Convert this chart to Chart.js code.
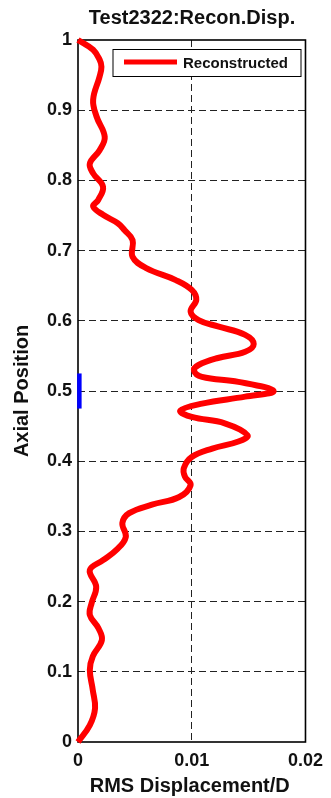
<!DOCTYPE html>
<html>
<head>
<meta charset="utf-8">
<script src="https://cdn.jsdelivr.net/npm/chart.js@4/dist/chart.umd.min.js"></script>
<style>
  html, body { margin: 0; padding: 0; background: #ffffff; }
  #wrap { width: 331px; height: 798px; position: relative; }
</style>
</head>
<body>
<div id="wrap"><canvas id="chart"></canvas></div>
<script>
// Reconstructed RMS displacement profile along the axial position
const axialPosition = [
  0.000, 0.024, 0.048, 0.074, 0.103, 0.122, 0.145, 0.162, 0.181, 0.198,
  0.221, 0.245, 0.259, 0.274, 0.292, 0.312, 0.326, 0.338, 0.349, 0.366,
  0.378, 0.390, 0.406, 0.418, 0.428, 0.437, 0.454, 0.463, 0.472, 0.482,
  0.492, 0.500, 0.513, 0.520, 0.529, 0.537, 0.547, 0.556, 0.567, 0.580,
  0.592, 0.601, 0.613, 0.630, 0.644, 0.658, 0.675, 0.691, 0.715, 0.729,
  0.739, 0.751, 0.763, 0.772, 0.791, 0.810, 0.824, 0.843, 0.862, 0.891,
  0.915, 0.948, 0.962, 0.972, 0.986, 1.000
];
const rmsDisplacement = [
  0.0000, 0.00104, 0.0015, 0.0013, 0.00104, 0.0013, 0.0021, 0.0018, 0.00104, 0.0012,
  0.0016, 0.00104, 0.0022, 0.0034, 0.0042, 0.0039, 0.0045, 0.0065, 0.0089, 0.0099,
  0.0094, 0.0093, 0.0100, 0.0118, 0.0141, 0.0149, 0.0129, 0.0100, 0.0090, 0.0109,
  0.0147, 0.0172, 0.0141, 0.0109, 0.0102, 0.0106, 0.0123, 0.0147, 0.01545, 0.0147,
  0.0123, 0.0106, 0.0099, 0.0104, 0.0100, 0.0086, 0.0060, 0.0048, 0.0048, 0.0041,
  0.0035, 0.0022, 0.00133, 0.00177, 0.0022, 0.00133, 0.00104, 0.0019, 0.00235, 0.00163,
  0.00133, 0.0019, 0.00206, 0.0019, 0.00133, 0.0000
];

// Short blue marker on the left axis
const markerPosition = [0.475, 0.525];
const markerDisplacement = [0.00012, 0.00012];

const xTickLabels = ['0', '0.01', '0.02'];
const yTickLabels = ['0', '0.1', '0.2', '0.3', '0.4', '0.5', '0.6', '0.7', '0.8', '0.9', '1'];

const chartTitle = 'Test2322:Recon.Disp.';
const xTitle = 'RMS Displacement/D';
const yTitle = 'Axial Position';
const seriesName = 'Reconstructed';

const FONT = '"Liberation Sans", Arial, Helvetica, sans-serif';

const curve = axialPosition.map((y, i) => ({ x: rmsDisplacement[i], y }));
const marker = markerPosition.map((y, i) => ({ x: markerDisplacement[i], y }));

// Box around the plot area (drawn beneath the data)
const frame = {
  id: 'frame',
  beforeDatasetsDraw(chart) {
    const { ctx, chartArea: a } = chart;
    ctx.save();
    ctx.strokeStyle = '#000';
    ctx.lineWidth = 1.6;
    ctx.strokeRect(a.left, a.top, a.right - a.left, a.bottom - a.top);
    ctx.restore();
  }
};

// Title, axis titles and the in-plot legend
const annotations = {
  id: 'annotations',
  afterDraw(chart) {
    const { ctx, chartArea: a } = chart;
    ctx.save();
    ctx.fillStyle = '#111';
    ctx.textAlign = 'center';
    ctx.textBaseline = 'alphabetic';

    ctx.font = 'bold 20px ' + FONT;
    ctx.fillText(chartTitle, 192, 24);

    ctx.font = 'bold 20px ' + FONT;
    ctx.fillText(xTitle, (a.left + a.right) / 2 - 2, 792);

    ctx.save();
    ctx.translate(28, (a.top + a.bottom) / 2);
    ctx.rotate(-Math.PI / 2);
    ctx.fillText(yTitle, 0, 0);
    ctx.restore();

    // legend box
    const lx = 113, ly = 49.5, lw = 188, lh = 27;
    ctx.fillStyle = '#fff';
    ctx.fillRect(lx, ly, lw, lh);
    ctx.strokeStyle = '#000';
    ctx.lineWidth = 1;
    ctx.strokeRect(lx, ly, lw, lh);
    ctx.strokeStyle = '#ff0000';
    ctx.lineWidth = 5;
    ctx.beginPath();
    ctx.moveTo(124, 62);
    ctx.lineTo(177, 62);
    ctx.stroke();
    ctx.fillStyle = '#111';
    ctx.textAlign = 'left';
    ctx.font = 'bold 15px ' + FONT;
    ctx.fillText(seriesName, 183, 67.5);
    ctx.restore();
  }
};

new Chart(document.getElementById('chart'), {
  type: 'scatter',
  data: {
    datasets: [
      {
        label: seriesName,
        data: curve,
        showLine: true,
        borderColor: '#ff0000',
        borderWidth: 6,
        pointRadius: 0,
        tension: 0.4,
        clip: false
      },
      {
        label: 'marker',
        data: marker,
        showLine: true,
        borderColor: '#0000ff',
        borderWidth: 4.5,
        borderCapStyle: 'butt',
        pointRadius: 0,
        tension: 0,
        clip: false
      }
    ]
  },
  options: {
    responsive: true,
    maintainAspectRatio: false,
    animation: false,
    devicePixelRatio: 1,
    layout: { padding: { left: 0, top: 40, right: 23, bottom: 0 } },
    plugins: {
      legend: { display: false },
      title: { display: false },
      tooltip: { enabled: false }
    },
    scales: {
      x: {
        type: 'linear',
        min: 0,
        max: 0.02,
        afterFit(scale) { scale.height = 56; },
        afterBuildTicks(scale) {
          scale.ticks = xTickLabels.map(t => ({ value: parseFloat(t) }));
        },
        border: { display: false, dash: [7, 4] },
        grid: {
          color: ctx => (ctx.tick && (ctx.tick.value === 0 || ctx.tick.value === 0.02)) ? 'rgba(0,0,0,0)' : '#222',
          lineWidth: 1,
          drawTicks: false
        },
        ticks: {
          padding: 8,
          color: '#111',
          maxRotation: 0,
          font: { family: FONT, size: 18, weight: 'bold' },
          callback: (v, i) => xTickLabels[i]
        }
      },
      y: {
        type: 'linear',
        min: 0,
        max: 1,
        afterFit(scale) { scale.width = 78; },
        afterBuildTicks(scale) {
          scale.ticks = yTickLabels.map(t => ({ value: parseFloat(t) }));
        },
        border: { display: false, dash: [7, 4] },
        grid: {
          color: ctx => (ctx.tick && (ctx.tick.value === 0 || ctx.tick.value === 1)) ? 'rgba(0,0,0,0)' : '#222',
          lineWidth: 1,
          drawTicks: false
        },
        ticks: {
          padding: 6,
          color: '#111',
          font: { family: FONT, size: 18, weight: 'bold' },
          callback: (v, i) => yTickLabels[i]
        }
      }
    }
  },
  plugins: [frame, annotations]
});
</script>
</body>
</html>
